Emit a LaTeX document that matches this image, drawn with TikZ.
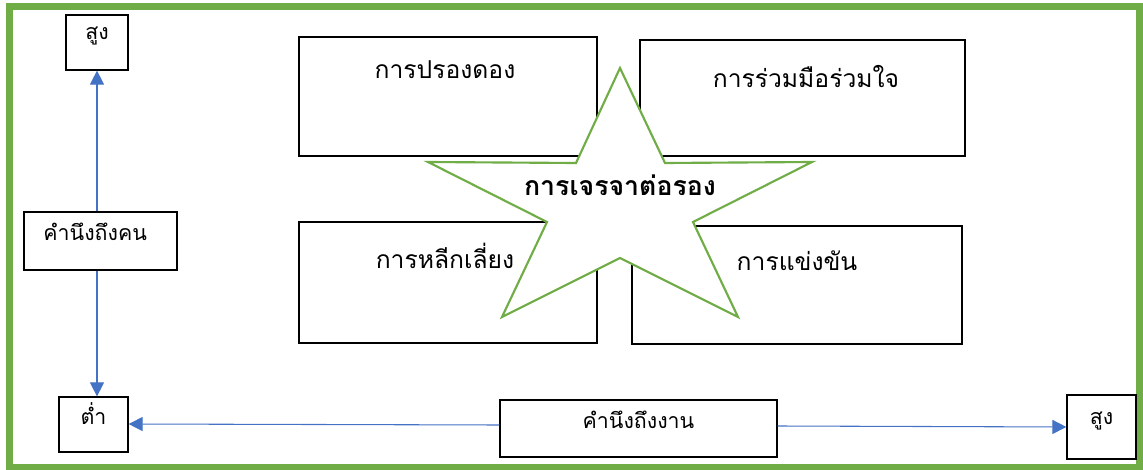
\documentclass[tikz,border=0pt]{standalone}
\usepackage{fontspec}
\newfontfamily\thai[Script=Thai]{Loma}
\usetikzlibrary{arrows.meta,fit}
\definecolor{frameg}{HTML}{70AD47}
\definecolor{arrb}{HTML}{4472C4}
\begin{document}
\begin{tikzpicture}[x=0.75pt,y=-0.75pt,
  box/.style={draw=black,line width=0.9pt,fill=white,inner sep=0pt,font=\thai\fontsize{16}{18}\selectfont},
  thick box/.style={box,line width=1.5pt},
  lbl/.style={font=\thai\fontsize{18.5}{20}\selectfont,inner sep=0pt},
  starlbl/.style={font=\thai\bfseries\fontsize{20}{22}\selectfont,inner sep=0pt},
  conn/.style={draw=arrb,line width=0.8pt,-{Triangle[length=10.5pt,width=10.5pt]}},
  starline/.style={draw=frameg,line width=1.6pt,fill=white,line join=miter}]
\useasboundingbox (0,0) rectangle (1143,470);
\draw[frameg,line width=5.25pt] (9,6.5) rectangle (1139,467);
% quadrant boxes
\node[box,fit={(299,37) (597,156)}] (q1) {};
\node[box,fit={(640,40) (965,156)}] (q2) {};
\node[box,fit={(299,222) (597,343)}] (q3) {};
\node[thick box,fit={(632,226) (962,344)}] (q4) {};
\node[lbl] (t1) at (445,70) {การปรองดอง};
\node[lbl] (t2) at (806,76) {การร่วมมือร่วมใจ};
\node[lbl] (t3) at (445,256) {การหลีกเลี่ยง};
\node[lbl] (t4) at (797,261) {การแข่งขัน};
% star
\draw[starline] (620,68) coordinate (s0) -- (665,163) -- (812,162) -- (693,222) -- (738,317)
  -- (620,258) -- (502,317) -- (547,222) -- (428,162) -- (576,163) -- cycle;
\node[starlbl] (star) at (620,185) {การเจรจาต่อรอง};
% axes
\node[box,fit={(66,15) (128,70)}] (hiL) {สูง};
\node[box,fit={(24,212) (177,270)}] (people) {\hspace*{-8pt}คำนึงถึงคน};
\node[box,fit={(59,397) (128,452)}] (lo) {ต่ำ};
\node[box,fit={(500,400) (777,457)}] (task) {คำนึงถึงงาน};
\node[box,fit={(1067,395) (1136,459)}] (hiR) {สูง};
\draw[conn] (people.north -| hiL.south) -- (hiL.south);
\draw[conn] (people.south -| hiL.south) -- (lo.north -| hiL.south);
\draw[conn] (task.west |- 0,425) -- (lo.east |- 0,424);
\draw[conn] (task.east |- 0,426) -- (hiR.west |- 0,427);
\end{tikzpicture}
\end{document}
